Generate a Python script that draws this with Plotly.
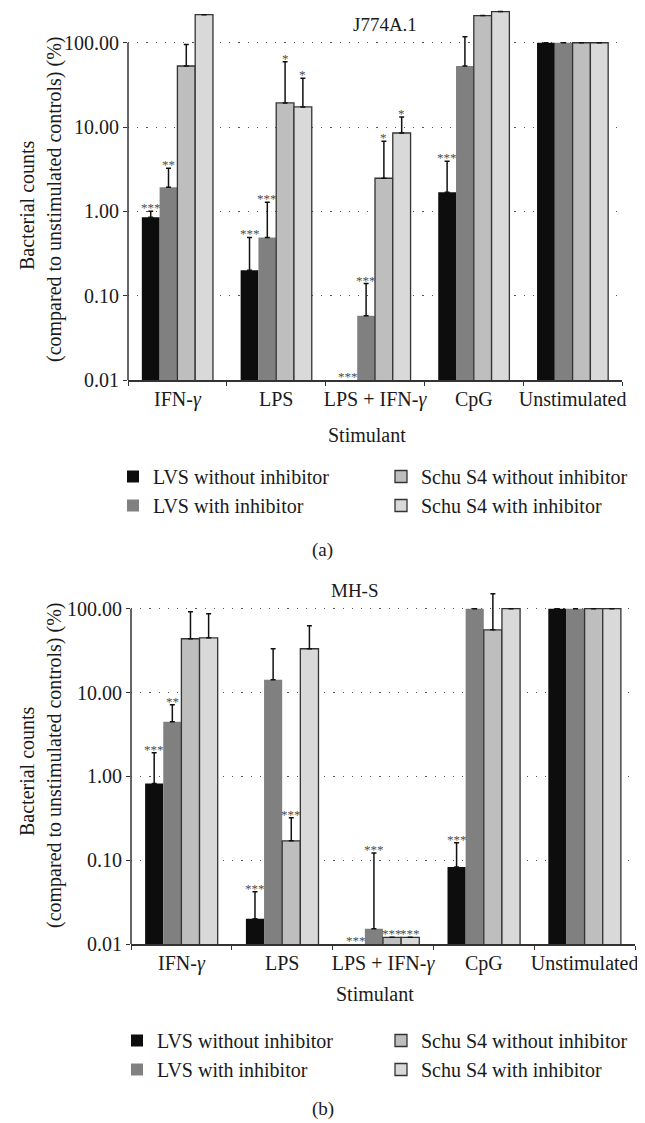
import numpy as np
import plotly.graph_objects as go

FONT = "Liberation Serif"
nan = np.nan

categories = ["IFN-γ", "LPS", "LPS + IFN-γ", "CpG", "Unstimulated"]
tick_text = ["IFN-<i>γ</i>", "LPS", "LPS + IFN-<i>γ</i>", "CpG", "Unstimulated"]
series_names = ["LVS without inhibitor", "LVS with inhibitor",
                "Schu S4 without inhibitor", "Schu S4 with inhibitor"]
y_tick_vals = [0.01, 0.1, 1, 10, 100]
y_tick_text = ["0.01", "0.10", "1.00", "10.00", "100.00"]

# Panel (a) J774A.1 : bar heights, error-bar tops, significance marks
a_lvs_wo = [0.85, 0.20, nan, 1.68, 100]
a_lvs_wo_err = [1.0, 0.49, nan, 3.94, nan]
a_lvs_wo_sig = ["***", "***", "***", "***", ""]
a_lvs_w = [1.93, 0.49, 0.058, 53, 100]
a_lvs_w_err = [3.25, 1.28, 0.139, 118, nan]
a_lvs_w_sig = ["**", "***", "***", "", ""]
a_schu_wo = [53, 19.3, 2.47, 210, 100]
a_schu_wo_err = [95, 59.5, 6.8, nan, nan]
a_schu_wo_sig = ["", "*", "*", "", ""]
a_schu_w = [215, 17.3, 8.5, 234, 100]
a_schu_w_err = [nan, 38, 13.2, nan, nan]
a_schu_w_sig = ["", "*", "*", "", ""]

# Panel (b) MH-S
b_lvs_wo = [0.82, 0.020, nan, 0.083, 100]
b_lvs_wo_err = [1.91, 0.042, nan, 0.161, nan]
b_lvs_wo_sig = ["***", "***", "***", "***", ""]
b_lvs_w = [4.49, 14.2, 0.0152, 100, 100]
b_lvs_w_err = [7.15, 33.3, 0.122, nan, nan]
b_lvs_w_sig = ["**", "", "***", "", ""]
b_schu_wo = [43.8, 0.17, 0.012, 56, 100]
b_schu_wo_err = [92, 0.32, nan, 151, nan]
b_schu_wo_sig = ["", "***", "***", "", ""]
b_schu_w = [45, 33.3, 0.012, 100, 100]
b_schu_w_err = [87, 62.7, nan, nan, nan]
b_schu_w_sig = ["", "", "***", "", ""]

colors = ["#0d0d0d", "#808080", "#bebebe", "#d9d9d9"]
outline = [None, None, "#333333", "#333333"]

PAGE_W, PAGE_H = 645, 1123
OFF = 8  # default page-body margin in the browser
W, H = PAGE_W - OFF, PAGE_H - OFF
BARGAP = 0.28
bw = (1 - BARGAP) / 4

panels = [
    dict(name="J774A.1", label="(a)", xa="x", ya="y",
         series=[(a_lvs_wo, a_lvs_wo_err, a_lvs_wo_sig), (a_lvs_w, a_lvs_w_err, a_lvs_w_sig),
                 (a_schu_wo, a_schu_wo_err, a_schu_wo_sig), (a_schu_w, a_schu_w_err, a_schu_w_sig)],
         xpx=(128, 622), ybot=380, ytop=1 + OFF, yr=(-2, 2.4),
         title_xy=(385, 24), stim_y=435, leg_y=457, leg_x=(113, 381),
         lab_y=550, ytitle_x=(27, 54), ytitle_y=200, legends=("legend", "legend2")),
    dict(name="MH-S", label="(b)", xa="x2", ya="y2",
         series=[(b_lvs_wo, b_lvs_wo_err, b_lvs_wo_sig), (b_lvs_w, b_lvs_w_err, b_lvs_w_sig),
                 (b_schu_wo, b_schu_wo_err, b_schu_wo_sig), (b_schu_w, b_schu_w_err, b_schu_w_sig)],
         xpx=(131, 635), ybot=944, ytop=571, yr=(-2, 2.45),
         title_xy=(355, 590), stim_y=994, leg_y=1021, leg_x=(117, 381),
         lab_y=1109, ytitle_x=(27, 54), ytitle_y=766, legends=("legend3", "legend4")),
]

fig = go.Figure()
annotations = []
shapes = []
layout = {}


def px_x(v):
    return (v - OFF) / W


def px_y(v):
    return 1 - (v - OFF) / H


def text_ann(x, y, text, size=20, angle=0):
    return dict(x=px_x(x), y=px_y(y), xref="paper", yref="paper", text=text,
                showarrow=False, xanchor="center", yanchor="middle", textangle=angle,
                font=dict(family=FONT, size=size, color="#1a1a1a"))


for pi, p in enumerate(panels):
    xa, ya = p["xa"], p["ya"]
    for k, (vals, errtop, sig) in enumerate(p["series"]):
        vals_arr = np.array(vals, dtype=float)
        plus = np.array(errtop, dtype=float) - vals_arr
        legend_id = p["legends"][0] if k < 2 else p["legends"][1]
        marker = dict(color=colors[k])
        if outline[k]:
            marker["line"] = dict(color=outline[k], width=1.3)
        else:
            marker["line"] = dict(width=0)
        fig.add_trace(go.Bar(
            x=categories, y=vals_arr, name=series_names[k],
            xaxis=xa, yaxis=ya, marker=marker,
            legend=legend_id, showlegend=True,
            error_y=dict(type="data", array=plus, symmetric=False,
                         arrayminus=np.zeros(len(vals)), color="#111111",
                         thickness=1.5, width=2.5),
        ))
        for i, s in enumerate(sig):
            if not s:
                continue
            if not np.isnan(errtop[i]):
                yv = errtop[i]
            elif not np.isnan(vals[i]):
                yv = vals[i]
            else:
                yv = y_tick_vals[0]
            annotations.append(dict(
                x=i + (k - 1.5) * bw, y=np.log10(yv), xref=xa, yref=ya,
                text=s, showarrow=False, yanchor="bottom", xanchor="center",
                yshift=-6, font=dict(family=FONT, size=13, color="#4d4d4d")))

    ax_suffix = "" if pi == 0 else "2"
    ydom = [px_y(p["ybot"]), px_y(p["ytop"])]
    layout["xaxis" + ax_suffix] = dict(
        domain=[px_x(p["xpx"][0]), px_x(p["xpx"][1])], anchor=ya, automargin=False,
        type="category", tickson="boundaries", ticks="outside", ticklen=4,
        tickcolor="#333333", tickwidth=1.2, showline=True, linecolor="#333333",
        linewidth=1.5, showgrid=False, tickvals=categories, ticktext=tick_text,
        tickangle=0, ticklabelstandoff=0,
        tickfont=dict(family=FONT, size=20, color="#1a1a1a"), range=[-0.5, 4.5])
    layout["yaxis" + ax_suffix] = dict(
        domain=ydom, anchor=xa, type="log", range=list(p["yr"]), automargin=False,
        tickvals=y_tick_vals, ticktext=y_tick_text, ticks="outside", ticklen=4,
        tickcolor="#333333", tickwidth=1.2, showline=False,
        showgrid=True, gridcolor="#555555", gridwidth=1, griddash="1.2px,8px",
        tickfont=dict(family=FONT, size=20, color="#1a1a1a"))
    # y-axis line from lowest to highest tick
    lo, hi = p["yr"]
    frac = (np.log10(y_tick_vals[-1]) - lo) / (hi - lo)
    shapes.append(dict(type="line", xref=xa + " domain", x0=0, x1=0, yref="paper",
                       y0=ydom[0], y1=ydom[0] + frac * (ydom[1] - ydom[0]),
                       line=dict(color="#333333", width=1.5)))

    # texts
    annotations.append(text_ann(p["title_xy"][0], p["title_xy"][1], p["name"], size=19))
    cx = (p["xpx"][0] + p["xpx"][1]) / 2
    annotations.append(text_ann(cx - 8, p["stim_y"], "Stimulant"))
    annotations.append(text_ann(p["ytitle_x"][0], p["ytitle_y"] + 5, "Bacterial counts", angle=-90))
    annotations.append(text_ann(p["ytitle_x"][1], p["ytitle_y"],
                                "(compared to unstimulated controls) (%)", angle=-90))
    annotations.append(text_ann(PAGE_W / 2, p["lab_y"], p["label"], size=19))
    for li, lid in enumerate(p["legends"]):
        layout[lid] = dict(x=px_x(p["leg_x"][li]), y=px_y(p["leg_y"]),
                           xanchor="left", yanchor="top", orientation="v",
                           bgcolor="rgba(0,0,0,0)", borderwidth=0, tracegroupgap=0,
                           itemwidth=30,
                           font=dict(family=FONT, size=20, color="#1a1a1a"))

fig.update_layout(
    width=W, height=H, margin=dict(l=0, r=0, t=0, b=0, autoexpand=False),
    paper_bgcolor="white", plot_bgcolor="white",
    barmode="group", bargap=BARGAP, bargroupgap=0,
    annotations=annotations, shapes=shapes,
    font=dict(family=FONT, size=20, color="#1a1a1a"),
    **layout,
)

fig.write_html("out.html")
